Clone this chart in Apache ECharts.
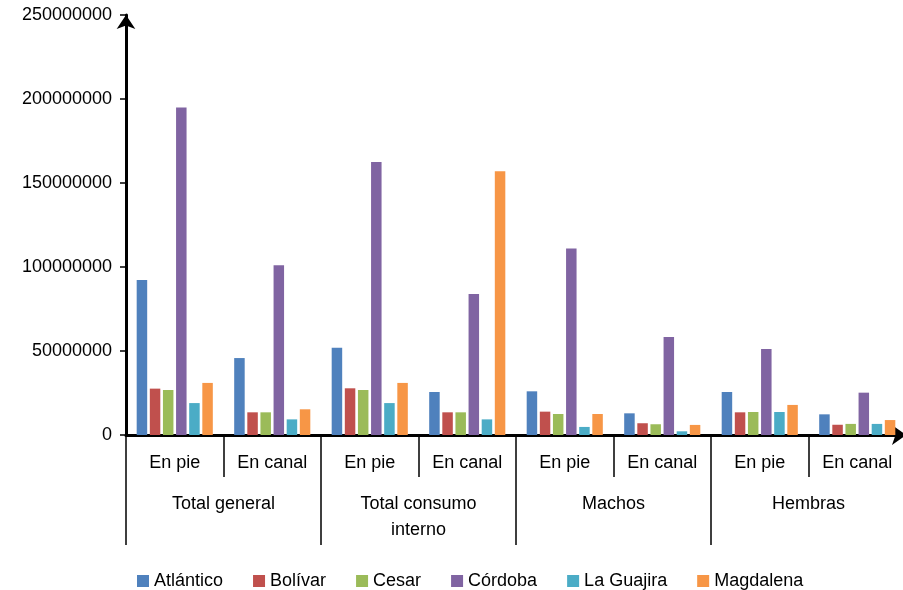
<!DOCTYPE html>
<html><head><meta charset="utf-8">
<script src="https://cdn.jsdelivr.net/npm/echarts@6/dist/echarts.min.js"></script>
<style>html,body{margin:0;padding:0;background:#fff}#c{width:903px;height:590px}</style>
</head><body><div id="c"></div>
<script>
const subCategories = ['En pie','En canal','En pie','En canal','En pie','En canal','En pie','En canal'];
const groups = ['Total general','Total consumo\ninterno','Machos','Hembras'];
const yTicks = [0, 50000000, 100000000, 150000000, 200000000, 250000000];
const seriesNames = ['Atlántico','Bolívar','Cesar','Córdoba','La Guajira','Magdalena'];
const atlantico = [92300000, 45800000, 52000000, 25600000, 26000000, 12900000, 25600000, 12300000];
const bolivar   = [27600000, 13500000, 27800000, 13500000, 13900000, 7000000, 13500000, 6100000];
const cesar     = [26800000, 13500000, 26800000, 13500000, 12500000, 6400000, 13700000, 6600000];
const cordoba   = [195000000, 101000000, 162500000, 84000000, 111000000, 58300000, 51200000, 25200000];
const guajira   = [19000000, 9300000, 19000000, 9300000, 4800000, 2200000, 13700000, 6600000];
const magdalena = [31000000, 15300000, 31000000, 157000000, 12500000, 6000000, 17900000, 8900000];
const colors = ['#4F81BD','#C0504D','#9BBB59','#8064A2','#4BACC6','#F79646'];
const values = [atlantico, bolivar, cesar, cordoba, guajira, magdalena];

const FONT = 'Liberation Sans';
const chart = echarts.init(document.getElementById('c'), null, {renderer:'canvas'});
chart.setOption({
  animation:false,
  color: colors,
  textStyle:{fontFamily:FONT},
  grid:{left:126, width:780, top:15, height:420, outerBoundsMode:'none', containLabel:false},
  legend:{
    top:567, left:132, itemWidth:12, itemHeight:12, itemGap:30,
    icon:'rect',
    textStyle:{fontFamily:FONT, fontSize:18, color:'#000'},
    data: seriesNames
  },
  xAxis:[{
    type:'category', data: subCategories, position:'bottom',
    axisLine:{show:true, lineStyle:{color:'#000', width:3}, symbol:['none','arrow'], symbolSize:[15,14]},
    axisTick:{show:true, interval:0, length:42, lineStyle:{color:'#000', width:1.5}},
    axisLabel:{interval:0, margin:19, fontFamily:FONT, fontSize:18, color:'#000'}
  },{
    type:'category', data: groups, position:'bottom', gridIndex:0,
    axisLine:{show:false},
    axisTick:{show:true, interval:0, length:110, lineStyle:{color:'#000', width:1.5}},
    axisLabel:{interval:0, margin:56, fontFamily:FONT, fontSize:18, color:'#000', lineHeight:26}
  }],
  yAxis:{
    type:'value', min:yTicks[0], max:yTicks[yTicks.length-1], interval:yTicks[1]-yTicks[0],
    axisLine:{show:true, lineStyle:{color:'#000', width:3}, symbol:['none','arrow'], symbolSize:[14,14]},
    axisTick:{show:true, length:6, lineStyle:{color:'#000', width:1.5}},
    splitLine:{show:false},
    axisLabel:{margin:14, fontFamily:FONT, fontSize:18, color:'#000', formatter: v => String(v)}
  },
  series: seriesNames.map((n,i)=>({
    name:n, type:'bar', xAxisIndex:0, data: values[i],
    barWidth:10.5, barGap:'25%',
    itemStyle:{color:colors[i]}
  }))
});
</script></body></html>
